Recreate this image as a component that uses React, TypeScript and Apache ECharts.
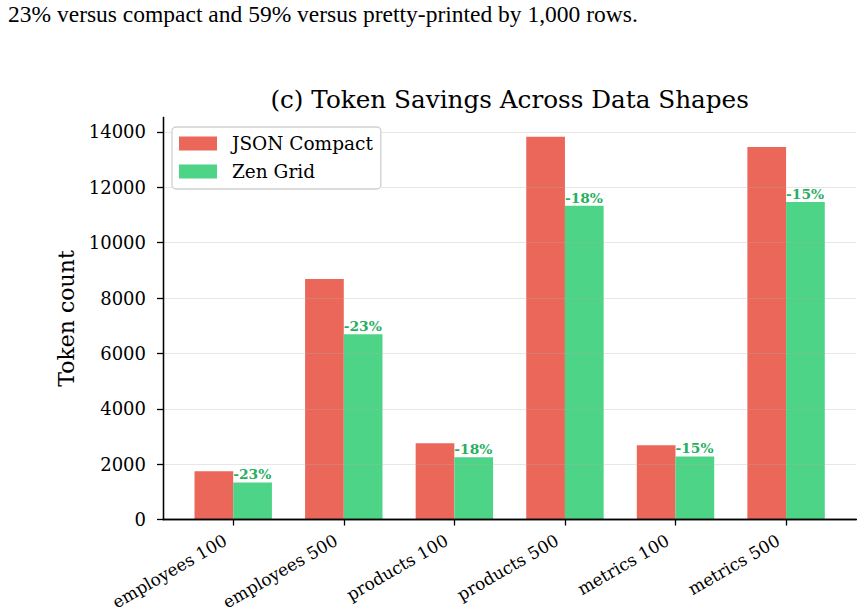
import React, { useEffect, useRef } from "react";
import * as echarts from "echarts";

const categories = ["employees 100", "employees 500", "products 100", "products 500", "metrics 100", "metrics 500"];
const jsonCompact = [1740, 8690, 2750, 13830, 2680, 13460];
const zenGrid = [1340, 6690, 2250, 11330, 2280, 11470];
const yTicks = [0, 2000, 4000, 6000, 8000, 10000, 12000, 14000];
const seriesNames = ["JSON Compact", "Zen Grid"];
const headerText = "23% versus compact and 59% versus pretty-printed by 1,000 rows.";
const titleText = "(c) Token Savings Across Data Shapes";

const FONT = "DejaVu Serif";

export default function App() {
  const ref = useRef<HTMLDivElement>(null);
  useEffect(() => {
    document.body.style.margin = "0";
    const chart = echarts.init(ref.current!, null, { renderer: "svg" });
    const yMax = Math.max(...jsonCompact) * 1.05;
    const plotLeft = 163;
    const plotRight = 856.3;
    const plotTop = 117.5;
    const plotBottom = 519.5;
    const n = categories.length;
    const span = (n - 1) + 0.7;
    const lo = -0.35 - span * 0.05;
    const hi = n - 1 + 0.35 + span * 0.05;
    const unit = (plotRight - plotLeft) / (hi - lo);
    const catLeft = plotLeft + (-0.5 - lo) * unit;
    const catWidth = n * unit;
    const barW = 0.35 * unit;
    const savings = jsonCompact.map((v, i) => Math.round((1 - zenGrid[i] / v) * 100));

    const axisLineStyle = { show: true, lineStyle: { color: "#000", width: 1.3 } };
    const option: any = {
      animation: false,
      backgroundColor: "#fff",
      title: [
        {
          text: titleText,
          left: (plotLeft + plotRight) / 2 - 5,
          textAlign: "center",
          top: 82,
          textStyle: { fontFamily: FONT, fontSize: 24.7, fontWeight: "normal", color: "#000" },
        },
        {
          text: headerText,
          left: 8,
          top: 2,
          padding: 0,
          textStyle: { fontFamily: "Liberation Serif", fontSize: 23.5, fontWeight: "normal", color: "#000" },
        },
      ],
      legend: {
        orient: "vertical",
        left: 172,
        top: 127,
        padding: [7, 8, 8, 7],
        itemWidth: 38,
        itemHeight: 14,
        itemGap: 9,
        icon: "rect",
        backgroundColor: "#fff",
        borderColor: "#d0d0d0",
        borderWidth: 1.3,
        borderRadius: 4,
        data: seriesNames,
        textStyle: { fontFamily: FONT, fontSize: 18.5, color: "#000", lineHeight: 18, padding: [0, 0, 0, 10] },
        z: 10,
      },
      grid: [
        { left: plotLeft, width: plotRight - plotLeft, top: plotTop, height: plotBottom - plotTop, outerBoundsMode: "none", containLabel: false },
        { left: catLeft, width: catWidth, top: plotTop, height: plotBottom - plotTop, outerBoundsMode: "none", containLabel: false },
      ],
      xAxis: [
        { type: "value", gridIndex: 0, position: "bottom", min: 0, max: 1, axisLine: axisLineStyle, axisTick: { show: false }, axisLabel: { show: false }, splitLine: { show: false }, z: 5 },
        { type: "value", gridIndex: 0, position: "top", min: 0, max: 1, axisLine: axisLineStyle, axisTick: { show: false }, axisLabel: { show: false }, splitLine: { show: false }, z: 5 },
        {
          type: "category",
          gridIndex: 1,
          data: categories,
          axisLine: { show: false },
          axisTick: { show: true, alignWithLabel: true, length: 6, lineStyle: { color: "#000", width: 1.3 } },
          axisLabel: {
            rotate: 30,
            margin: 15,
            padding: [0, 9, 0, 0],
            fontFamily: FONT,
            fontSize: 17,
            color: "#000",
            interval: 0,
            overflow: "none",
          },
          splitLine: { show: false },
        },
      ],
      yAxis: [
        {
          type: "value",
          gridIndex: 0,
          position: "left",
          min: 0,
          max: yMax,
          name: "Token count",
          nameLocation: "middle",
          nameGap: 84,
          nameTextStyle: { fontFamily: FONT, fontSize: 22, color: "#000" },
          axisLine: axisLineStyle,
          axisTick: { show: true, length: 6, lineStyle: { color: "#000", width: 1.3 }, customValues: yTicks },
          axisLabel: {
            fontFamily: FONT,
            fontSize: 18,
            color: "#000",
            margin: 17,
            customValues: yTicks,
            formatter: (v: number) => String(v),
          },
          splitLine: { show: true, lineStyle: { color: "rgba(176,176,176,0.3)", width: 1.1 } },
          interval: 2000,
          z: 5,
        },
        {
          type: "value",
          gridIndex: 0,
          position: "right",
          min: 0,
          max: yMax,
          axisLine: axisLineStyle,
          axisTick: { show: false },
          axisLabel: { show: false },
          splitLine: { show: false },
          z: 5,
        },
        { type: "value", gridIndex: 1, min: 0, max: yMax, show: false, splitLine: { show: false } },
      ],
      series: [
        {
          name: seriesNames[0],
          type: "bar",
          xAxisIndex: 2,
          yAxisIndex: 2,
          data: jsonCompact,
          barWidth: barW,
          barGap: "0%",
          itemStyle: { color: "#EB6759" },
          z: 2,
        },
        {
          name: seriesNames[1],
          type: "bar",
          xAxisIndex: 2,
          yAxisIndex: 2,
          data: zenGrid,
          barWidth: barW,
          barGap: "0%",
          itemStyle: { color: "#4DD486" },
          z: 2,
          label: {
            show: true,
            position: [0, -1],
            align: "left",
            verticalAlign: "bottom",
            formatter: (p: any) => `-${savings[p.dataIndex]}%`,
            fontFamily: FONT,
            fontWeight: "bold",
            fontSize: 13.8,
            color: "#27ae60",
          },
        },
      ],
    };
    chart.setOption(option);
    return () => chart.dispose();
  }, []);
  return <div ref={ref} style={{ width: 864, height: 613 }} />;
}
